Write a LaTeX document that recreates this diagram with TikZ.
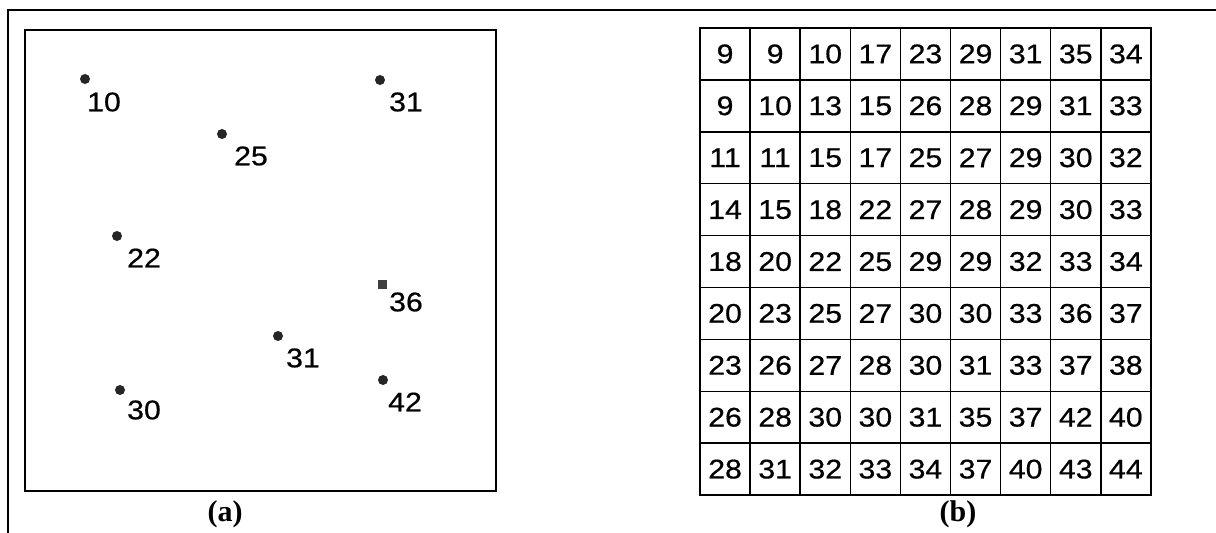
\documentclass[tikz,border=0pt]{standalone}
\usepackage{fontspec}
\setmainfont{Liberation Serif}
\newfontfamily\numfont[FakeStretch=1.12,FakeBold=0.6]{Liberation Sans}
\begin{document}
\begin{tikzpicture}[x=1pt,y=-1pt,
  frameline/.style={line width=2.2pt},
  boxline/.style={draw, line width=2.2pt, inner sep=0pt, outer sep=0pt},
  cell/.style={draw, line width=1.5pt, minimum width=50.1pt, minimum height=51.9pt, inner sep=0pt, outer sep=0pt, font=\numfont\fontsize{27}{27}\selectfont},
  dot/.style={circle, fill=black!85, inner sep=0pt, minimum size=10pt},
  sqdot/.style={rectangle, fill=black!75, inner sep=0pt, minimum size=9pt},
  val/.style={font=\numfont\fontsize{27}{27}\selectfont, inner sep=0pt},
  captext/.style={font=\bfseries\fontsize{30}{30}\selectfont, inner sep=0pt}]
\useasboundingbox (0,0) rectangle (1216,533);
% outer frame
\coordinate (fbl) at (8,533);
\coordinate (ftl) at (8,10);
\coordinate (ftr) at (1216,10);
\draw[frameline] (fbl) -- (ftl) -- (ftr);
% panel (a)
\node[boxline, minimum width=471pt, minimum height=461pt, anchor=north west] (boxa) at (25,30) {};
\node[dot] (d1) at (85,79) {};   \node[val] (t1) at (104,102) {10};
\node[dot] (d2) at (222,134) {};  \node[val] (t2) at (251,156) {25};
\node[dot] (d3) at (380,80) {};   \node[val] (t3) at (406,102) {31};
\node[dot] (d4) at (117,236) {};  \node[val] (t4) at (144,258) {22};
\node[sqdot] (d5) at (382,284) {}; \node[val] (t5) at (406,302) {36};
\node[dot] (d6) at (278,336) {};  \node[val] (t6) at (303,358) {31};
\node[dot] (d7) at (120,390) {};  \node[val] (t7) at (144,410) {30};
\node[dot] (d8) at (383,380) {};  \node[val] (t8) at (405,402) {42};
\node[captext] (capa) at (225,514) {(a)};
% panel (b)
\foreach \r/\row in {1/{9,9,10,17,23,29,31,35,34},
                     2/{9,10,13,15,26,28,29,31,33},
                     3/{11,11,15,17,25,27,29,30,32},
                     4/{14,15,18,22,27,28,29,30,33},
                     5/{18,20,22,25,29,29,32,33,34},
                     6/{20,23,25,27,30,30,33,36,37},
                     7/{23,26,27,28,30,31,33,37,38},
                     8/{26,28,30,30,31,35,37,42,40},
                     9/{28,31,32,33,34,37,40,43,44}}{
  \foreach \v [count=\c] in \row {
    \node[cell, anchor=north west] (c\r-\c) at ({700+(\c-1)*50.1},{28+(\r-1)*51.9}) {\v};
  }
}
\node[captext] (capb) at (958,514) {(b)};
\end{tikzpicture}
\end{document}
